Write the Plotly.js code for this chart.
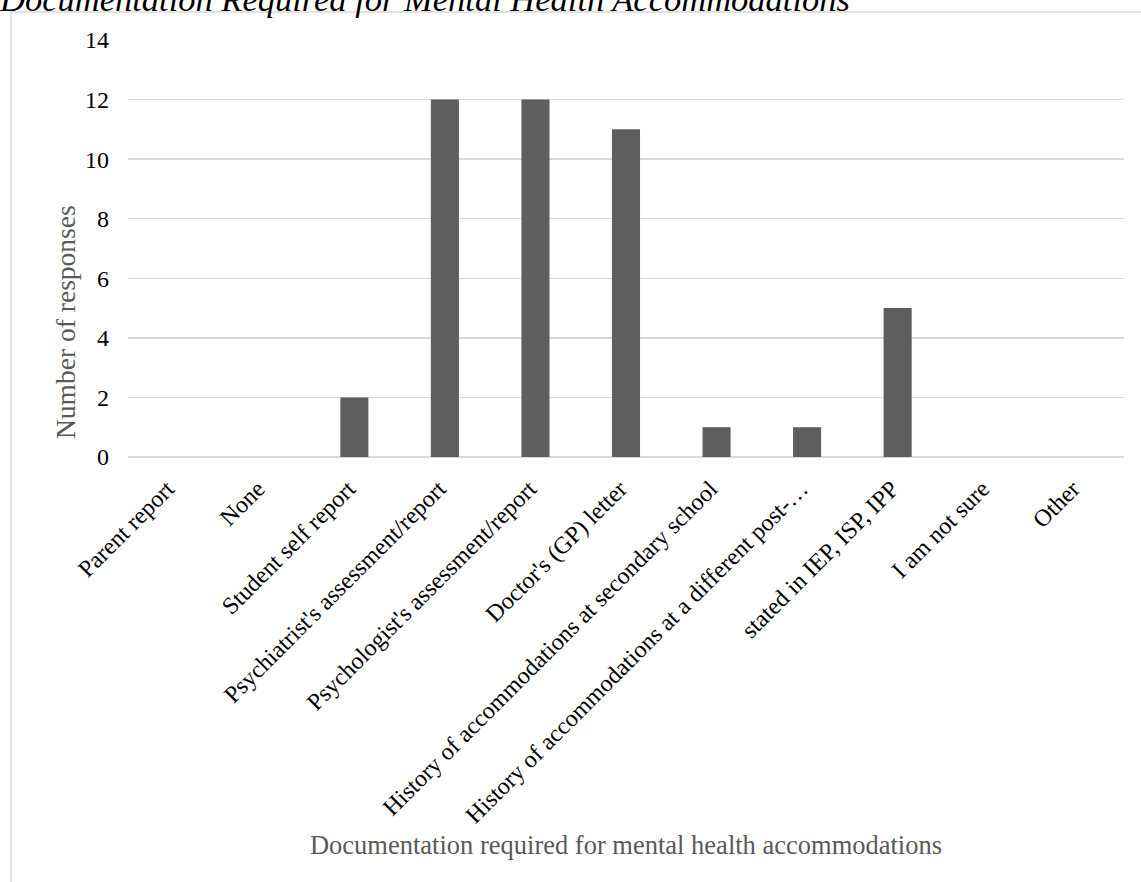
<!DOCTYPE html>
<html>
<head>
<meta charset="utf-8">
<script src="https://cdn.plot.ly/plotly-3.0.1.min.js"></script>
<style>
  html, body { margin: 0; padding: 0; background: #ffffff; }
  #chart { width: 1141px; height: 882px; }
</style>
</head>
<body>
<div id="chart"></div>
<script>
// Documentation types asked for before mental health accommodations are granted
const categories = [
  "Parent report",
  "None",
  "Student self report",
  "Psychiatrist's assessment/report",
  "Psychologist's assessment/report",
  "Doctor's (GP) letter",
  "History of accommodations at secondary school",
  "History of accommodations at a different post-\u2026",
  "stated in IEP, ISP, IPP",
  "I am not sure",
  "Other"
];
const responses = [0, 0, 2, 12, 12, 11, 1, 1, 5, 0, 0];
const yTicks = [0, 2, 4, 6, 8, 10, 12, 14];

const serif = "Liberation Serif, Times New Roman, serif";
const W = 1141, H = 882;
const M = { l: 128, r: 17, t: 40, b: 425 };
const pw = W - M.l - M.r, ph = H - M.t - M.b;
// pixel -> paper helpers for items placed outside the plot area
const px = x => (x - M.l) / pw;
const py = y => (H - M.b - y) / ph;

const trace = {
  type: "bar",
  x: categories,
  y: responses,
  marker: { color: "#5e5e5e" },
  hoverinfo: "x+y"
};

const layout = {
  width: W,
  height: H,
  margin: M,
  paper_bgcolor: "#ffffff",
  plot_bgcolor: "#ffffff",
  showlegend: false,
  bargap: 0.69,
  font: { family: serif, color: "#000000" },
  title: {
    text: "Documentation Required for Mental Health Accommodations",
    font: { family: serif, size: 34.5, style: "italic", color: "#000000" },
    x: 0,
    xref: "container",
    xanchor: "left",
    y: 1 - 11 / H,
    yref: "container",
    yanchor: "bottom",
    pad: { t: 0, b: 0, l: 0, r: 0 }
  },
  xaxis: {
    type: "category",
    tickangle: -45,
    tickfont: { family: serif, size: 24, color: "#000000" },
    ticklabelstandoff: 12,
    ticklabelshift: -6,
    showgrid: false,
    showline: false,
    ticks: "",
    automargin: false,
    title: {
      text: "Documentation required for mental health accommodations",
      font: { family: serif, size: 26.5, color: "#595959" },
      standoff: 8
    }
  },
  yaxis: {
    range: [0, 14],
    tickvals: yTicks,
    ticktext: yTicks.map(String),
    tickfont: { family: serif, size: 24, color: "#000000" },
    showgrid: true,
    gridcolor: "#d9d9d9",
    gridwidth: 1.3,
    zeroline: true,
    zerolinecolor: "#d9d9d9",
    zerolinewidth: 1.3,
    showline: false,
    ticks: "",
    ticklabelstandoff: 18,
    automargin: false
  },
  annotations: [{
    text: "Number of responses",
    textangle: -90,
    xref: "paper",
    yref: "paper",
    x: px(65),
    y: py(322),
    xanchor: "center",
    yanchor: "middle",
    showarrow: false,
    font: { family: serif, size: 27.5, color: "#595959" }
  }],
  shapes: [{
    type: "rect",
    xref: "paper",
    yref: "paper",
    x0: px(11),
    x1: px(W + 20),
    y0: py(H + 20),
    y1: py(12),
    line: { color: "#d9d9d9", width: 1.5 },
    fillcolor: "rgba(0,0,0,0)",
    layer: "below"
  }]
};

Plotly.newPlot("chart", [trace], layout, { displayModeBar: false, staticPlot: true });
</script>
</body>
</html>
